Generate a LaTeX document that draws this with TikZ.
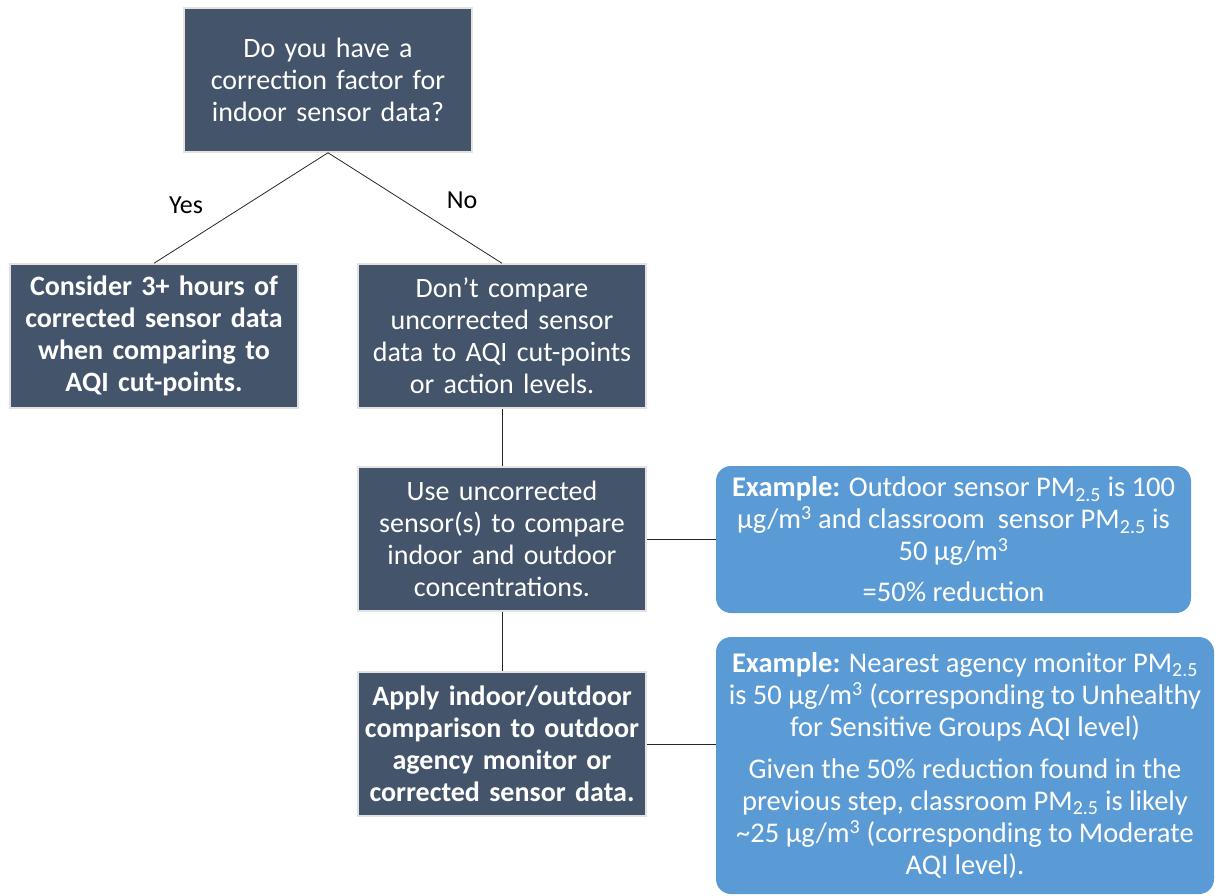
\documentclass[tikz,border=0pt]{standalone}
\usepackage{fontspec}
\setmainfont{Carlito}
\usetikzlibrary{calc}

\definecolor{slate}{HTML}{44546A}
\definecolor{skyblue}{HTML}{5B9BD5}

\tikzset{
	darkbox/.style={draw=gray!22, line width=1.5pt, fill=slate, text=white,
		minimum width=288pt, minimum height=144pt, text width=286pt,
		align=center, inner sep=0pt, font=\fontsize{28}{32}\selectfont},
	notebox/.style={fill=skyblue, text=white, rounded corners=15pt,
		align=center, inner sep=0pt, font=\fontsize{28.5}{32}\selectfont},
	link/.style={draw=black!85, line width=0.8pt},
	answer/.style={font=\fontsize{26}{28}\selectfont}
}

\newcommand{\pmtf}{PM\textsubscript{2.5}}
\newcommand{\ugm}{µg/m\textsuperscript{3}}

\begin{document}
\begin{tikzpicture}[x=1pt, y=-1pt]

	% ---- page

	\useasboundingbox (0,0) rectangle (1215,896);

	% ---- question

	\node[darkbox] (ask) at (328,80) {Do you have a\\correction factor for\\indoor sensor data?};

	% ---- branches

	\node[darkbox, font=\fontsize{28}{32}\selectfont\bfseries] (yes) at (154,336)
		{Consider 3+ hours of\\corrected sensor data\\when comparing to\\AQI cut-points.};
	\node[darkbox] (no) at (502,336)
		{Don’t compare\\uncorrected sensor\\data to AQI cut-points\\or action levels.};

	\node[answer] (ylabel) at (186,205) {Yes};
	\node[answer] (nlabel) at (462,200) {No};

	% ---- steps

	\node[darkbox] (use) at (502,539)
		{Use uncorrected\\sensor(s) to compare\\indoor and outdoor\\concentrations.};
	\node[darkbox, font=\fontsize{28}{32}\selectfont\bfseries] (apply) at (502,744)
		{Apply indoor/outdoor\\comparison to outdoor\\agency monitor or\\corrected sensor data.};

	% ---- examples

	\node[notebox, minimum width=475pt, minimum height=147pt] (ex1) at (953.5,539.5)
		{\textbf{Example:} Outdoor sensor \pmtf{} is 100\\
		 \ugm{} and classroom\ \ sensor \pmtf{} is\\
		 50 \ugm\\[9pt]
		 =50\% reduction};
	\node[notebox, minimum width=498pt, minimum height=257pt] (ex2) at (965,765.5)
		{\textbf{Example:} Nearest agency monitor \pmtf\\
		 is 50 \ugm{} (corresponding to Unhealthy\\
		 for Sensitive Groups AQI level)\\[10pt]
		 Given the 50\% reduction found in the\\
		 previous step, classroom \pmtf{} is likely\\
		 \textasciitilde25 \ugm{} (corresponding to Moderate\\
		 AQI level).};

	% ---- connectors

	\draw[link] (ask.south) -- (yes.north);
	\draw[link] (ask.south) -- (no.north);
	\draw[link] (no.south) -- (use.north);
	\draw[link] (use.south) -- (apply.north);
	\draw[link] (use.east) -- (ex1.west |- use.east);
	\draw[link] (apply.east) -- (ex2.west |- apply.east);

\end{tikzpicture}
\end{document}
